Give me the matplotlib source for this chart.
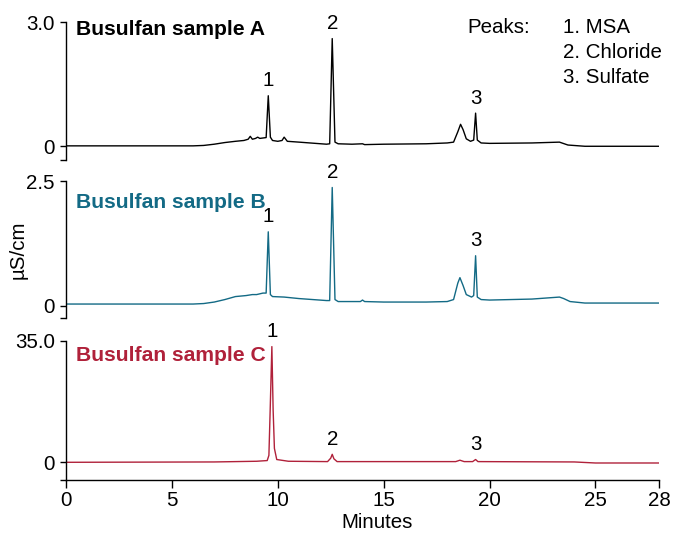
import matplotlib
matplotlib.use('Agg')
import matplotlib.pyplot as plt

plt.rcParams['font.family'] = ['Liberation Sans', 'DejaVu Sans']
plt.rcParams['font.size'] = 14.8

# -----------------------------
# Traces (minutes, µS/cm)
# -----------------------------
time_a = [0, 6.0, 6.5, 7.0, 7.5, 8.0, 8.4, 8.6, 8.7, 8.8, 8.95, 9.05, 9.15, 9.3, 9.45,
          9.55, 9.65, 9.75, 10.0, 10.2, 10.3, 10.45, 11.0, 12.3, 12.45, 12.57, 12.7,
          12.85, 13.5, 14.0, 14.1, 15.0, 17.0, 18.0, 18.3, 18.5, 18.63, 18.75, 18.9,
          19.1, 19.25, 19.34, 19.42, 19.6, 20.0, 22.0, 23.3, 23.7, 24.5, 28.0]
signal_a = [0.01, 0.01, 0.02, 0.05, 0.09, 0.12, 0.14, 0.17, 0.24, 0.17, 0.19, 0.22, 0.19,
            0.2, 0.21, 1.22, 0.22, 0.14, 0.12, 0.14, 0.22, 0.12, 0.1, 0.05, 0.06, 2.6,
            0.1, 0.06, 0.05, 0.06, 0.04, 0.05, 0.06, 0.08, 0.1, 0.35, 0.53, 0.4, 0.18,
            0.12, 0.15, 0.8, 0.15, 0.08, 0.07, 0.08, 0.1, 0.03, 0.0, 0.0]

time_b = [0, 6.0, 6.5, 7.0, 7.5, 8.0, 8.5, 8.8, 9.0, 9.3, 9.45, 9.55, 9.65, 9.75, 10.3,
          11.0, 12.3, 12.45, 12.57, 12.7, 12.85, 13.9, 14.0, 14.1, 15.0, 17.0, 18.0,
          18.3, 18.5, 18.6, 18.75, 18.9, 19.15, 19.25, 19.34, 19.42, 19.6, 20.0, 22.0,
          23.3, 23.5, 23.8, 24.5, 28.0]
signal_b = [0.03, 0.03, 0.04, 0.07, 0.12, 0.18, 0.2, 0.22, 0.22, 0.25, 0.25, 1.48, 0.22,
            0.18, 0.17, 0.14, 0.1, 0.1, 2.37, 0.12, 0.08, 0.08, 0.11, 0.08, 0.07, 0.07,
            0.08, 0.12, 0.45, 0.56, 0.4, 0.22, 0.17, 0.2, 1.0, 0.17, 0.12, 0.11, 0.13,
            0.17, 0.14, 0.08, 0.05, 0.05]

time_c = [0, 7.0, 9.0, 9.5, 9.58, 9.64, 9.72, 9.78, 9.84, 9.95, 10.5, 12.35, 12.5,
          12.57, 12.65, 12.8, 18.4, 18.6, 18.8, 19.2, 19.34, 19.45, 24.0, 25.0, 28.0]
signal_c = [0.0, 0.1, 0.3, 0.5, 2.0, 15.0, 33.3, 15.0, 4.0, 0.8, 0.3, 0.2, 1.2, 2.3,
            1.0, 0.2, 0.2, 0.6, 0.2, 0.2, 0.8, 0.2, 0.1, -0.2, -0.2]

# peak apex times / heights used for the numbered labels
peak_times_a = [9.55, 12.57, 19.34]
peak_heights_a = [1.22, 2.6, 0.8]
peak_times_b = [9.55, 12.57, 19.34]
peak_heights_b = [1.48, 2.37, 1.0]
peak_times_c = [9.72, 12.57, 19.34]
peak_heights_c = [33.3, 2.3, 0.8]

y_limits = [(-0.32, 3.0), (-0.25, 2.5), (-5.1, 35.0)]
y_top_labels = ["3.0", "2.5", "35.0"]
names = ["Busulfan sample A", "Busulfan sample B", "Busulfan sample C"]
colors = ["#000000", "#136a85", "#b0213a"]

x_ticks = [0, 5, 10, 15, 20, 25, 28]
peak_legend = ["1. MSA", "2. Chloride", "3. Sulfate"]

fig = plt.figure(figsize=(6.75, 5.33), dpi=100)

# axes boxes in figure fractions (left, bottom, width, height)
boxes = [(0.0978, 0.7007, 0.8785, 0.2580),
         (0.0978, 0.4034, 0.8785, 0.2570),
         (0.0978, 0.0994, 0.8785, 0.2614)]
name_y = [0.942, 0.84, 0.897]

traces = [(time_a, signal_a, peak_times_a, peak_heights_a),
          (time_b, signal_b, peak_times_b, peak_heights_b),
          (time_c, signal_c, peak_times_c, peak_heights_c)]

for i, (t, s, pt, ph) in enumerate(traces):
    ax = fig.add_axes(boxes[i])
    ax.plot(t, s, color=colors[i], linewidth=1.0)
    ax.set_xlim(0, 28)
    ax.set_ylim(*y_limits[i])

    for side in ["top", "right"]:
        ax.spines[side].set_visible(False)
    ax.spines["left"].set_linewidth(1.0)

    lo, hi = y_limits[i]
    ax.set_yticks([lo, 0, hi])
    ax.set_yticklabels(["", "0", y_top_labels[i]])
    ax.tick_params(axis="y", direction="out", length=4, width=1.0, pad=4, labelsize=14.8)

    if i < 2:
        ax.spines["bottom"].set_visible(False)
        ax.set_xticks([])
    else:
        ax.spines["bottom"].set_linewidth(1.0)
        ax.set_xticks(x_ticks)
        ax.set_xticklabels([str(v) for v in x_ticks])
        ax.tick_params(axis="x", direction="out", length=6, width=1.0, pad=2, labelsize=14.8)

    ax.text(0.017, name_y[i], names[i], transform=ax.transAxes, color=colors[i],
            fontsize=15.2, fontweight="bold", ha="left", va="center")

    for n, (px, py) in enumerate(zip(pt, ph)):
        ax.annotate(str(n + 1), xy=(px, py), xytext=(0, 4), textcoords="offset points",
                    ha="center", va="bottom", fontsize=14.8, color="black",
                    annotation_clip=False)

# peak key
fig.text(0.692, 0.9475, "Peaks:", ha="left", va="center", fontsize=14.8)
for k, label in enumerate(peak_legend):
    fig.text(0.834, 0.9475 - k * 0.0469, label, ha="left", va="center", fontsize=14.8)

fig.text(0.027, 0.531, "µS/cm", rotation=90, ha="center", va="center", fontsize=14.8)
fig.text(0.5585, 0.0206, "Minutes", ha="center", va="center", fontsize=14.8)

fig.savefig("out.png", dpi=100)
